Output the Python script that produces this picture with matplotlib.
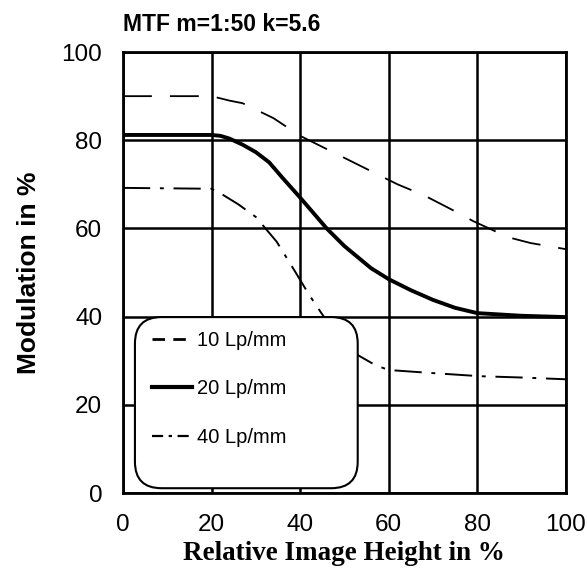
import matplotlib.pyplot as plt
from matplotlib.lines import Line2D
from matplotlib.patches import FancyBboxPatch

# 10 Lp/mm
x10 = [0, 20, 24, 27, 34, 40, 48, 54, 62, 68, 74, 79, 87, 92, 100]
y10 = [90, 90, 89, 88.4, 85, 81, 77, 74, 70, 67.5, 64.4, 61.7, 58, 56.7, 55.3]

# 20 Lp/mm
x20 = [0, 20, 22, 24, 27, 30, 33, 36, 40, 43, 46, 50, 53, 56, 60, 65, 70, 75, 80, 90, 100]
y20 = [81.2, 81.2, 81, 80.4, 79, 77.3, 75, 71.5, 67, 63.5, 60, 56, 53.5, 51, 48.5, 46, 43.8, 42, 40.8, 40.2, 39.9]

# 40 Lp/mm
x40 = [0, 20, 22.6, 26, 30, 34.7, 39, 42, 45, 49, 53, 57, 60, 70, 80.6, 90, 100]
y40 = [69.2, 69, 67.6, 65.5, 62.6, 57, 50, 45, 40.5, 35, 31.3, 29, 27.9, 27.2, 26.5, 26.2, 25.8]

labels = ['10 Lp/mm', '20 Lp/mm', '40 Lp/mm']

plt.rcParams['font.family'] = ['Liberation Sans', 'DejaVu Sans']

fig = plt.figure(figsize=(5.87, 5.72), dpi=100)
ax = fig.add_axes([0.2095, 0.138, 0.7545, 0.771])

ax.plot(x10, y10, color='black', lw=1.3, dashes=(16, 10))
ax.plot(x20, y20, color='black', lw=2.8)
ax.plot(x40, y40, color='black', lw=1.4, dashes=(14, 5, 2, 5))

ax.set_xlim(0, 100)
ax.set_ylim(0, 100)
ax.set_xticks([0, 20, 40, 60, 80, 100])
ax.set_yticks([0, 20, 40, 60, 80, 100])
ax.grid(True, color='black', lw=1.8)
ax.set_axisbelow(True)
for s in ax.spines.values():
    s.set_linewidth(2)
ax.tick_params(length=0, labelsize=17.5, pad=15)

ax.set_title('MTF m=1:50 k=5.6', loc='left', fontsize=16.5, fontweight='bold', pad=15)
ax.set_ylabel('Modulation in %', fontsize=19, fontweight='bold', labelpad=15)
ax.set_xlabel('Relative Image Height in %', fontsize=19.5, fontweight='bold',
              family='Liberation Serif', labelpad=4)

# legend box
box = FancyBboxPatch((0.027, 0.011), 0.503, 0.388, transform=ax.transAxes,
                     boxstyle='round,pad=0,rounding_size=0.06',
                     facecolor='white', edgecolor='black', lw=1.5, zorder=3)
ax.add_patch(box)
handles = [Line2D([], [], color='black', lw=2, dashes=(4.5, 3)),
           Line2D([], [], color='black', lw=3),
           Line2D([], [], color='black', lw=1.6, dashes=(5, 2.5, 1.5, 2.5))]
leg = ax.legend(handles, labels, loc='upper left', bbox_to_anchor=(0.065, 0.367),
                frameon=False, fontsize=14.5, handlelength=2.0, handletextpad=0.25,
                labelspacing=1.45, borderpad=0, borderaxespad=0)
leg.set_zorder(4)

plt.savefig('out.png', dpi=100)
